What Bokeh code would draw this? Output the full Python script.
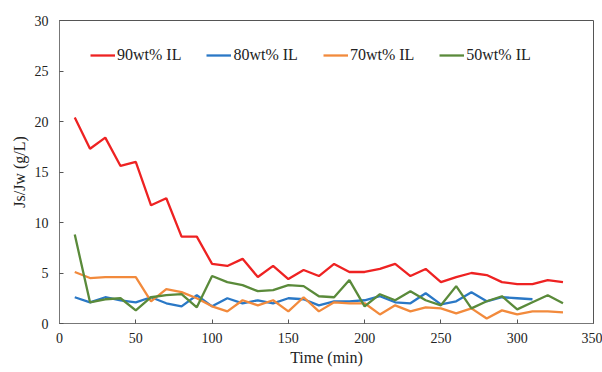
from bokeh.plotting import figure
from bokeh.models import Range1d, Legend, LegendItem, FixedTicker
from bokeh.embed import file_html
from bokeh.resources import INLINE

time_min = [10, 20, 30, 40, 50, 60, 70, 80, 90, 100, 110, 120, 130, 140, 150, 160,
            170, 180, 190, 200, 210, 220, 230, 240, 250, 260, 270, 280, 290, 300, 310, 320, 330]

il90 = [20.4, 17.3, 18.4, 15.6, 16.0, 11.7, 12.4, 8.6, 8.6, 5.9, 5.7, 6.4, 4.6, 5.7, 4.4, 5.3,
        4.7, 5.9, 5.1, 5.1, 5.4, 5.9, 4.7, 5.4, 4.1, 4.6, 5.0, 4.8, 4.1, 3.9, 3.9, 4.3, 4.1]

time_80 = [10, 20, 30, 40, 50, 60, 70, 80, 90, 100, 110, 120, 130, 140, 150, 160,
           170, 180, 190, 200, 210, 220, 230, 240, 250, 260, 270, 280, 290, 300, 310]
il80 = [2.6, 2.1, 2.6, 2.3, 2.1, 2.6, 2.0, 1.7, 2.8, 1.7, 2.5, 2.0, 2.3, 2.0, 2.5, 2.4,
        1.8, 2.2, 2.2, 2.3, 2.7, 2.1, 2.0, 3.0, 1.9, 2.2, 3.1, 2.2, 2.6, 2.5, 2.4]

il70 = [5.1, 4.5, 4.6, 4.6, 4.6, 2.2, 3.4, 3.1, 2.5, 1.7, 1.2, 2.3, 1.8, 2.3, 1.2, 2.6,
        1.2, 2.1, 2.0, 2.0, 0.9, 1.8, 1.2, 1.6, 1.5, 1.0, 1.5, 0.5, 1.3, 0.9, 1.2, 1.2, 1.1]

il50 = [8.8, 2.1, 2.4, 2.5, 1.3, 2.6, 2.8, 2.9, 1.6, 4.7, 4.1, 3.8, 3.2, 3.3, 3.8, 3.7,
        2.7, 2.6, 4.3, 1.7, 2.9, 2.3, 3.2, 2.3, 1.8, 3.7, 1.5, 2.2, 2.7, 1.4, 2.1, 2.8, 2.0]

labels = ["90wt% IL", "80wt% IL", "70wt% IL", "50wt% IL"]
x_ticks = [0, 50, 100, 150, 200, 250, 300, 350]
y_ticks = [0, 5, 10, 15, 20, 25, 30]

FONT = "Liberation Serif"
colors = ["#EE2222", "#2A78C6", "#F28A3C", "#5A8A3A"]

p = figure(width=602, height=372, output_backend="svg", toolbar_location=None,
           x_range=Range1d(0, 350), y_range=Range1d(0, 30),
           min_border_left=59, min_border_right=9, min_border_top=20, min_border_bottom=49)
p.background_fill_color = "white"
p.border_fill_color = "white"
p.outline_line_color = "#555555"
p.outline_line_width = 1
p.xgrid.visible = False
p.ygrid.visible = False

r90 = p.line(time_min, il90, line_color=colors[0], line_width=2.3)
r80 = p.line(time_80, il80, line_color=colors[1], line_width=2.3)
r70 = p.line(time_min, il70, line_color=colors[2], line_width=2.3)
r50 = p.line(time_min, il50, line_color=colors[3], line_width=2.3)

for ax in (p.xaxis[0], p.yaxis[0]):
    ax.axis_line_color = "#777777"
    ax.major_tick_line_color = "#555555"
    ax.major_tick_in = 4
    ax.major_tick_out = 0
    ax.minor_tick_line_color = None
    ax.major_label_text_font = FONT
    ax.major_label_text_font_size = "14px"
    ax.major_label_text_color = "#222222"
    ax.axis_label_text_font = FONT
    ax.axis_label_text_font_size = "16px"
    ax.axis_label_text_font_style = "normal"
    ax.axis_label_text_color = "#222222"

p.xaxis.ticker = FixedTicker(ticks=x_ticks)
p.yaxis.ticker = FixedTicker(ticks=y_ticks)
p.xaxis.axis_label = "Time (min)"
p.yaxis.axis_label = "Js/Jw (g/L)"
p.xaxis.major_label_standoff = 9
p.yaxis.major_label_standoff = 11
p.xaxis.axis_label_standoff = 3
p.yaxis.axis_label_standoff = 4

legend = Legend(items=[LegendItem(label=labels[0], renderers=[r90]),
                       LegendItem(label=labels[1], renderers=[r80]),
                       LegendItem(label=labels[2], renderers=[r70]),
                       LegendItem(label=labels[3], renderers=[r50])],
                orientation="horizontal", location=(31, 258))
legend.padding = 0
legend.margin = 0
legend.spacing = 25
legend.glyph_width = 25
legend.glyph_height = 20
legend.label_standoff = 2
legend.label_text_font = FONT
legend.label_text_font_size = "16px"
legend.label_text_color = "#222222"
legend.border_line_color = None
legend.background_fill_alpha = 0
p.add_layout(legend)

open("out.html", "w").write(file_html(p, INLINE))
